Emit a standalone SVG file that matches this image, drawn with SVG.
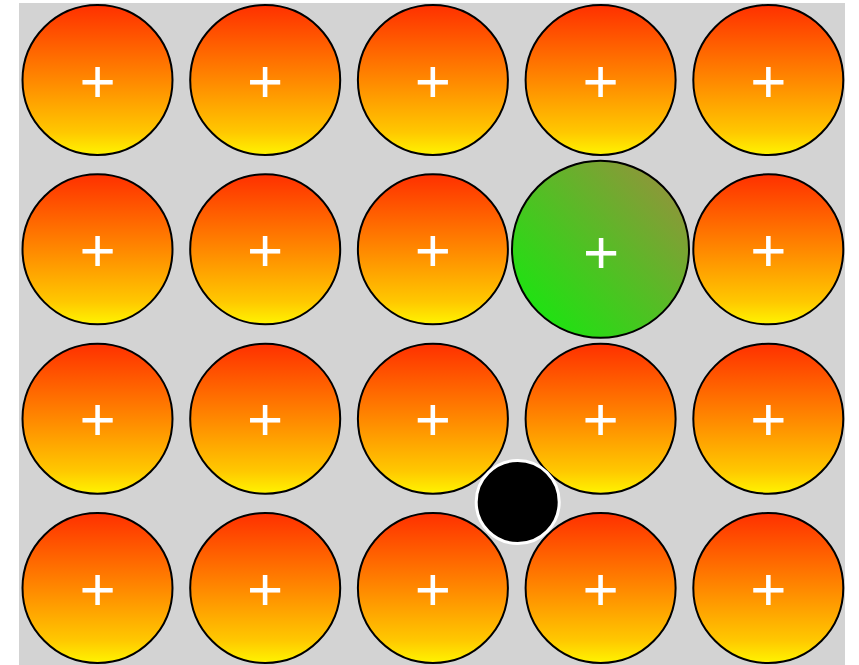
<svg xmlns="http://www.w3.org/2000/svg" width="859" height="665" viewBox="0 0 859 665">
<defs>
<linearGradient id="warm" x1="0" y1="0" x2="0" y2="1">
<stop offset="0" stop-color="#ff3000"/>
<stop offset="0.5" stop-color="#ff8800"/>
<stop offset="0.85" stop-color="#ffc800"/>
<stop offset="1" stop-color="#fff400"/>
</linearGradient>
<linearGradient id="hot" x1="0" y1="1" x2="1" y2="0">
<stop offset="0" stop-color="#0af00a"/>
<stop offset="1" stop-color="#a08a40"/>
</linearGradient>
<style>
.c{fill:url(#warm);stroke:#000;stroke-width:2}
.h{fill:url(#hot);stroke:#000;stroke-width:2}
.p{fill:#fff;font-family:"Liberation Sans",Arial,sans-serif;font-size:62px;text-anchor:middle}
.d{fill:#000;stroke:#fff;stroke-width:3}
</style>
</defs>
<rect x="19" y="3" width="826" height="662" fill="#d3d3d3"/>
<g id="nodes">
<g id="n0-0"><circle class="c" cx="97.5" cy="80" r="75"/><text class="p" x="97.5" y="101.5">+</text></g>
<g id="n0-1"><circle class="c" cx="265.2" cy="80" r="75"/><text class="p" x="265.2" y="101.5">+</text></g>
<g id="n0-2"><circle class="c" cx="432.9" cy="80" r="75"/><text class="p" x="432.9" y="101.5">+</text></g>
<g id="n0-3"><circle class="c" cx="600.6" cy="80" r="75"/><text class="p" x="600.6" y="101.5">+</text></g>
<g id="n0-4"><circle class="c" cx="768.3" cy="80" r="75"/><text class="p" x="768.3" y="101.5">+</text></g>
<g id="n1-0"><circle class="c" cx="97.5" cy="249.3" r="75"/><text class="p" x="97.5" y="270.8">+</text></g>
<g id="n1-1"><circle class="c" cx="265.2" cy="249.3" r="75"/><text class="p" x="265.2" y="270.8">+</text></g>
<g id="n1-2"><circle class="c" cx="432.9" cy="249.3" r="75"/><text class="p" x="432.9" y="270.8">+</text></g>
<g id="n1-4"><circle class="c" cx="768.3" cy="249.3" r="75"/><text class="p" x="768.3" y="270.8">+</text></g>
<g id="n2-0"><circle class="c" cx="97.5" cy="418.7" r="75"/><text class="p" x="97.5" y="440.2">+</text></g>
<g id="n2-1"><circle class="c" cx="265.2" cy="418.7" r="75"/><text class="p" x="265.2" y="440.2">+</text></g>
<g id="n2-2"><circle class="c" cx="432.9" cy="418.7" r="75"/><text class="p" x="432.9" y="440.2">+</text></g>
<g id="n2-3"><circle class="c" cx="600.6" cy="418.7" r="75"/><text class="p" x="600.6" y="440.2">+</text></g>
<g id="n2-4"><circle class="c" cx="768.3" cy="418.7" r="75"/><text class="p" x="768.3" y="440.2">+</text></g>
<g id="n3-0"><circle class="c" cx="97.5" cy="588" r="75"/><text class="p" x="97.5" y="609.5">+</text></g>
<g id="n3-1"><circle class="c" cx="265.2" cy="588" r="75"/><text class="p" x="265.2" y="609.5">+</text></g>
<g id="n3-2"><circle class="c" cx="432.9" cy="588" r="75"/><text class="p" x="432.9" y="609.5">+</text></g>
<g id="n3-3"><circle class="c" cx="600.6" cy="588" r="75"/><text class="p" x="600.6" y="609.5">+</text></g>
<g id="n3-4"><circle class="c" cx="768.3" cy="588" r="75"/><text class="p" x="768.3" y="609.5">+</text></g>
<g id="n1-3"><circle class="h" cx="600.5" cy="249.3" r="88.5"/><text class="p" x="601.2" y="272.5">+</text></g>
<g id="dot"><circle class="d" cx="517.7" cy="502" r="41.5"/></g>
</g>
<g id="connectors"/>
</svg>
